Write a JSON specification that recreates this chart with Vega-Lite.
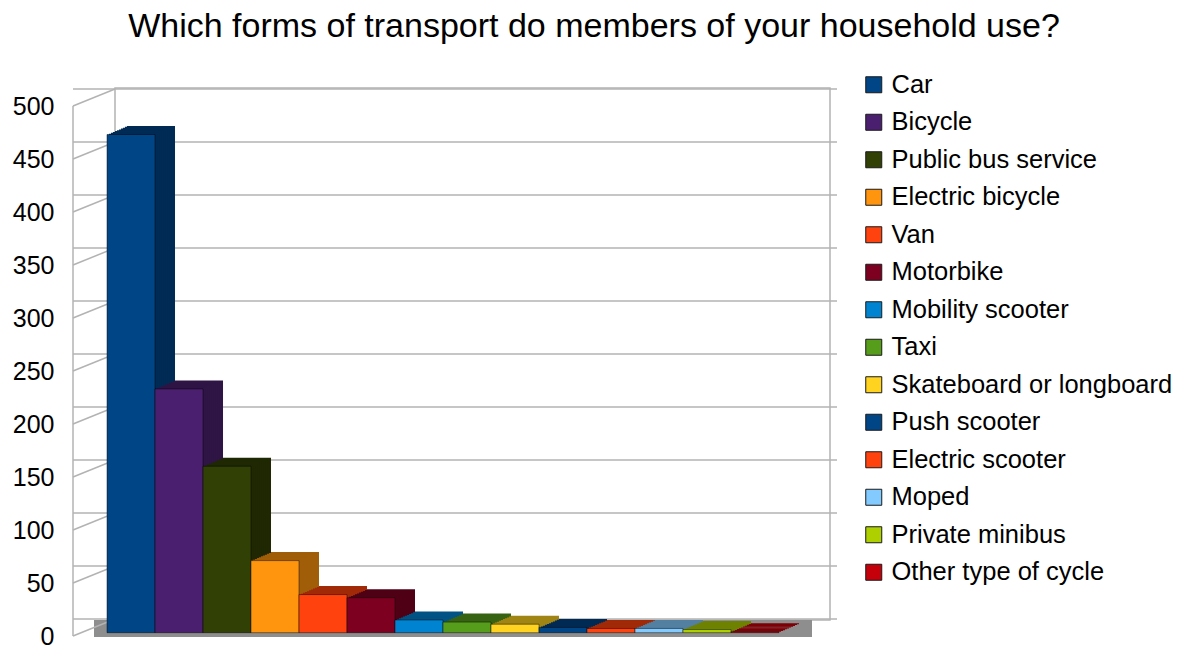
{
  "$schema": "https://vega.github.io/schema/vega-lite/v6.json",
  "width": 722,
  "height": 530,
  "autosize": {"type": "none"},
  "padding": {"left": 73, "top": 106, "right": 387, "bottom": 13},
  "background": "white",
  "title": {"text": "Which forms of transport do members of your household use?", "font": "Liberation Sans", "fontSize": 34, "fontWeight": "normal", "color": "#000000", "anchor": "middle", "offset": 28, "dx": 160},
  "config": {
    "view": {"stroke": null},
    "legend": {"orient": "none", "legendX": 788, "legendY": -34, "title": null, "labelFont": "Liberation Sans", "labelFontSize": 25.5, "labelColor": "#000000", "symbolType": "square", "symbolSize": 256, "symbolStrokeColor": "#1a1a1a", "symbolStrokeWidth": 1, "symbolOpacity": 1, "rowPadding": 10.5, "labelOffset": 5, "padding": 0, "labelLimit": 400}
  },
  "datasets": {
    "bars": [
      {"mode": "Car", "count": 470},
      {"mode": "Bicycle", "count": 230},
      {"mode": "Public bus service", "count": 157},
      {"mode": "Electric bicycle", "count": 68},
      {"mode": "Van", "count": 36},
      {"mode": "Motorbike", "count": 33},
      {"mode": "Mobility scooter", "count": 12},
      {"mode": "Taxi", "count": 10},
      {"mode": "Skateboard or longboard", "count": 8},
      {"mode": "Push scooter", "count": 5},
      {"mode": "Electric scooter", "count": 4},
      {"mode": "Moped", "count": 4},
      {"mode": "Private minibus", "count": 3},
      {"mode": "Other type of cycle", "count": 1}
    ],
    "grid": [{"v": 0}, {"v": 50}, {"v": 100}, {"v": 150}, {"v": 200}, {"v": 250}, {"v": 300}, {"v": 350}, {"v": 400}, {"v": 450}, {"v": 500}],
    "wall": [{"lo": 0, "hi": 500}]
  },
  "resolve": {"scale": {"color": "independent"}},
  "layer": [
    {"data": {"name": "wall"}, "mark": {"type": "rect", "fill": "#ffffff", "stroke": "#b3b3b3", "strokeWidth": 1.5, "xOffset": 42, "x2Offset": 35, "yOffset": -16, "y2Offset": -18},
     "encoding": {"x": {"value": 0}, "x2": {"value": {"expr": "width"}}, "y": {"field": "lo", "type": "quantitative", "scale": {"domain": [0, 500], "nice": false}, "axis": {"title": null, "values": [0, 50, 100, 150, 200, 250, 300, 350, 400, 450, 500], "domain": false, "ticks": false, "grid": false, "labelFont": "Liberation Sans", "labelFontSize": 25, "labelColor": "#000000", "labelPadding": 19, "labelFlush": false, "labelOverlap": false}}, "y2": {"field": "hi"}}},
    {"data": {"name": "grid"}, "mark": {"type": "rule", "stroke": "#b3b3b3", "strokeWidth": 1.5, "xOffset": 42, "x2Offset": 35, "yOffset": -17},
     "encoding": {"y": {"field": "v", "type": "quantitative", "scale": {"domain": [0, 500], "nice": false}, "axis": {"title": null, "values": [0, 50, 100, 150, 200, 250, 300, 350, 400, 450, 500], "domain": false, "ticks": false, "grid": false, "labelFont": "Liberation Sans", "labelFontSize": 25, "labelColor": "#000000", "labelPadding": 19, "labelFlush": false, "labelOverlap": false}}}},
    {"data": {"name": "wall"}, "mark": {"type": "rect", "fill": "#8e8e8e", "xOffset": 21, "x2Offset": 17, "yOffset": 1, "y2Offset": -16},
     "encoding": {"x": {"value": 0}, "x2": {"value": {"expr": "width"}}, "y": {"field": "lo", "type": "quantitative", "scale": {"domain": [0, 500], "nice": false}, "axis": {"title": null, "values": [0, 50, 100, 150, 200, 250, 300, 350, 400, 450, 500], "domain": false, "ticks": false, "grid": false, "labelFont": "Liberation Sans", "labelFontSize": 25, "labelColor": "#000000", "labelPadding": 19, "labelFlush": false, "labelOverlap": false}}, "y2": {"field": "lo"}}},
    {"data": {"name": "grid"}, "mark": {"type": "rule", "stroke": "#b3b3b3", "strokeWidth": 1.5, "y2Offset": -17},
     "encoding": {"x": {"value": 0}, "x2": {"value": 42}, "y": {"field": "v", "type": "quantitative", "scale": {"domain": [0, 500], "nice": false}, "axis": {"title": null, "values": [0, 50, 100, 150, 200, 250, 300, 350, 400, 450, 500], "domain": false, "ticks": false, "grid": false, "labelFont": "Liberation Sans", "labelFontSize": 25, "labelColor": "#000000", "labelPadding": 19, "labelFlush": false, "labelOverlap": false}}, "y2": {"field": "v"}}},
    {"data": {"name": "wall"}, "mark": {"type": "rule", "stroke": "#b3b3b3", "strokeWidth": 1.5},
     "encoding": {"x": {"value": 0}, "y": {"field": "lo", "type": "quantitative", "scale": {"domain": [0, 500], "nice": false}, "axis": {"title": null, "values": [0, 50, 100, 150, 200, 250, 300, 350, 400, 450, 500], "domain": false, "ticks": false, "grid": false, "labelFont": "Liberation Sans", "labelFontSize": 25, "labelColor": "#000000", "labelPadding": 19, "labelFlush": false, "labelOverlap": false}}, "y2": {"field": "hi"}}},
    {"data": {"name": "bars"}, "mark": {"type": "bar", "xOffset": 20, "yOffset": -11.8, "y2Offset": -11.8},
     "encoding": {"x": {"field": "mode", "type": "nominal", "sort": null, "axis": null, "scale": {"domain": ["Car", "Bicycle", "Public bus service", "Electric bicycle", "Van", "Motorbike", "Mobility scooter", "Taxi", "Skateboard or longboard", "Push scooter", "Electric scooter", "Moped", "Private minibus", "Other type of cycle"], "paddingInner": 0, "paddingOuter": 0.521, "align": 0.68}},
      "y": {"field": "count", "type": "quantitative", "scale": {"domain": [0, 500], "nice": false}, "axis": {"title": null, "values": [0, 50, 100, 150, 200, 250, 300, 350, 400, 450, 500], "domain": false, "ticks": false, "grid": false, "labelFont": "Liberation Sans", "labelFontSize": 25, "labelColor": "#000000", "labelPadding": 19, "labelFlush": false, "labelOverlap": false}},
      "color": {"field": "mode", "type": "nominal", "sort": null, "legend": null, "scale": {"domain": ["Car", "Bicycle", "Public bus service", "Electric bicycle", "Van", "Motorbike", "Mobility scooter", "Taxi", "Skateboard or longboard", "Push scooter", "Electric scooter", "Moped", "Private minibus", "Other type of cycle"], "range": ["#002b54", "#2f1446", "#1f2803", "#a15e09", "#a12a09", "#4f0015", "#005384", "#376312", "#a18514", "#002b54", "#a12a09", "#537fa1", "#6e8200", "#7c0007"]}}}},
    {"data": {"name": "bars"}, "mark": {"type": "bar", "xOffset": 18, "yOffset": -10.95, "y2Offset": -10.95},
     "encoding": {"x": {"field": "mode", "type": "nominal", "sort": null, "axis": null},
      "y": {"field": "count", "type": "quantitative", "scale": {"domain": [0, 500], "nice": false}, "axis": {"title": null, "values": [0, 50, 100, 150, 200, 250, 300, 350, 400, 450, 500], "domain": false, "ticks": false, "grid": false, "labelFont": "Liberation Sans", "labelFontSize": 25, "labelColor": "#000000", "labelPadding": 19, "labelFlush": false, "labelOverlap": false}},
      "color": {"field": "mode", "type": "nominal", "sort": null, "legend": null, "scale": {"domain": ["Car", "Bicycle", "Public bus service", "Electric bicycle", "Van", "Motorbike", "Mobility scooter", "Taxi", "Skateboard or longboard", "Push scooter", "Electric scooter", "Moped", "Private minibus", "Other type of cycle"], "range": ["#002b54", "#2f1446", "#1f2803", "#a15e09", "#a12a09", "#4f0015", "#005384", "#376312", "#a18514", "#002b54", "#a12a09", "#537fa1", "#6e8200", "#7c0007"]}}}},
    {"data": {"name": "bars"}, "mark": {"type": "bar", "xOffset": 16, "yOffset": -10.1, "y2Offset": -10.1},
     "encoding": {"x": {"field": "mode", "type": "nominal", "sort": null, "axis": null},
      "y": {"field": "count", "type": "quantitative", "scale": {"domain": [0, 500], "nice": false}, "axis": {"title": null, "values": [0, 50, 100, 150, 200, 250, 300, 350, 400, 450, 500], "domain": false, "ticks": false, "grid": false, "labelFont": "Liberation Sans", "labelFontSize": 25, "labelColor": "#000000", "labelPadding": 19, "labelFlush": false, "labelOverlap": false}},
      "color": {"field": "mode", "type": "nominal", "sort": null, "legend": null, "scale": {"domain": ["Car", "Bicycle", "Public bus service", "Electric bicycle", "Van", "Motorbike", "Mobility scooter", "Taxi", "Skateboard or longboard", "Push scooter", "Electric scooter", "Moped", "Private minibus", "Other type of cycle"], "range": ["#002b54", "#2f1446", "#1f2803", "#a15e09", "#a12a09", "#4f0015", "#005384", "#376312", "#a18514", "#002b54", "#a12a09", "#537fa1", "#6e8200", "#7c0007"]}}}},
    {"data": {"name": "bars"}, "mark": {"type": "bar", "xOffset": 14, "yOffset": -9.25, "y2Offset": -9.25},
     "encoding": {"x": {"field": "mode", "type": "nominal", "sort": null, "axis": null},
      "y": {"field": "count", "type": "quantitative", "scale": {"domain": [0, 500], "nice": false}, "axis": {"title": null, "values": [0, 50, 100, 150, 200, 250, 300, 350, 400, 450, 500], "domain": false, "ticks": false, "grid": false, "labelFont": "Liberation Sans", "labelFontSize": 25, "labelColor": "#000000", "labelPadding": 19, "labelFlush": false, "labelOverlap": false}},
      "color": {"field": "mode", "type": "nominal", "sort": null, "legend": null, "scale": {"domain": ["Car", "Bicycle", "Public bus service", "Electric bicycle", "Van", "Motorbike", "Mobility scooter", "Taxi", "Skateboard or longboard", "Push scooter", "Electric scooter", "Moped", "Private minibus", "Other type of cycle"], "range": ["#002b54", "#2f1446", "#1f2803", "#a15e09", "#a12a09", "#4f0015", "#005384", "#376312", "#a18514", "#002b54", "#a12a09", "#537fa1", "#6e8200", "#7c0007"]}}}},
    {"data": {"name": "bars"}, "mark": {"type": "bar", "xOffset": 12, "yOffset": -8.4, "y2Offset": -8.4},
     "encoding": {"x": {"field": "mode", "type": "nominal", "sort": null, "axis": null},
      "y": {"field": "count", "type": "quantitative", "scale": {"domain": [0, 500], "nice": false}, "axis": {"title": null, "values": [0, 50, 100, 150, 200, 250, 300, 350, 400, 450, 500], "domain": false, "ticks": false, "grid": false, "labelFont": "Liberation Sans", "labelFontSize": 25, "labelColor": "#000000", "labelPadding": 19, "labelFlush": false, "labelOverlap": false}},
      "color": {"field": "mode", "type": "nominal", "sort": null, "legend": null, "scale": {"domain": ["Car", "Bicycle", "Public bus service", "Electric bicycle", "Van", "Motorbike", "Mobility scooter", "Taxi", "Skateboard or longboard", "Push scooter", "Electric scooter", "Moped", "Private minibus", "Other type of cycle"], "range": ["#002b54", "#2f1446", "#1f2803", "#a15e09", "#a12a09", "#4f0015", "#005384", "#376312", "#a18514", "#002b54", "#a12a09", "#537fa1", "#6e8200", "#7c0007"]}}}},
    {"data": {"name": "bars"}, "mark": {"type": "bar", "xOffset": 10, "yOffset": -7.55, "y2Offset": -7.55},
     "encoding": {"x": {"field": "mode", "type": "nominal", "sort": null, "axis": null},
      "y": {"field": "count", "type": "quantitative", "scale": {"domain": [0, 500], "nice": false}, "axis": {"title": null, "values": [0, 50, 100, 150, 200, 250, 300, 350, 400, 450, 500], "domain": false, "ticks": false, "grid": false, "labelFont": "Liberation Sans", "labelFontSize": 25, "labelColor": "#000000", "labelPadding": 19, "labelFlush": false, "labelOverlap": false}},
      "color": {"field": "mode", "type": "nominal", "sort": null, "legend": null, "scale": {"domain": ["Car", "Bicycle", "Public bus service", "Electric bicycle", "Van", "Motorbike", "Mobility scooter", "Taxi", "Skateboard or longboard", "Push scooter", "Electric scooter", "Moped", "Private minibus", "Other type of cycle"], "range": ["#002b54", "#2f1446", "#1f2803", "#a15e09", "#a12a09", "#4f0015", "#005384", "#376312", "#a18514", "#002b54", "#a12a09", "#537fa1", "#6e8200", "#7c0007"]}}}},
    {"data": {"name": "bars"}, "mark": {"type": "bar", "xOffset": 8, "yOffset": -6.7, "y2Offset": -6.7},
     "encoding": {"x": {"field": "mode", "type": "nominal", "sort": null, "axis": null},
      "y": {"field": "count", "type": "quantitative", "scale": {"domain": [0, 500], "nice": false}, "axis": {"title": null, "values": [0, 50, 100, 150, 200, 250, 300, 350, 400, 450, 500], "domain": false, "ticks": false, "grid": false, "labelFont": "Liberation Sans", "labelFontSize": 25, "labelColor": "#000000", "labelPadding": 19, "labelFlush": false, "labelOverlap": false}},
      "color": {"field": "mode", "type": "nominal", "sort": null, "legend": null, "scale": {"domain": ["Car", "Bicycle", "Public bus service", "Electric bicycle", "Van", "Motorbike", "Mobility scooter", "Taxi", "Skateboard or longboard", "Push scooter", "Electric scooter", "Moped", "Private minibus", "Other type of cycle"], "range": ["#002b54", "#2f1446", "#1f2803", "#a15e09", "#a12a09", "#4f0015", "#005384", "#376312", "#a18514", "#002b54", "#a12a09", "#537fa1", "#6e8200", "#7c0007"]}}}},
    {"data": {"name": "bars"}, "mark": {"type": "bar", "xOffset": 6, "yOffset": -5.85, "y2Offset": -5.85},
     "encoding": {"x": {"field": "mode", "type": "nominal", "sort": null, "axis": null},
      "y": {"field": "count", "type": "quantitative", "scale": {"domain": [0, 500], "nice": false}, "axis": {"title": null, "values": [0, 50, 100, 150, 200, 250, 300, 350, 400, 450, 500], "domain": false, "ticks": false, "grid": false, "labelFont": "Liberation Sans", "labelFontSize": 25, "labelColor": "#000000", "labelPadding": 19, "labelFlush": false, "labelOverlap": false}},
      "color": {"field": "mode", "type": "nominal", "sort": null, "legend": null, "scale": {"domain": ["Car", "Bicycle", "Public bus service", "Electric bicycle", "Van", "Motorbike", "Mobility scooter", "Taxi", "Skateboard or longboard", "Push scooter", "Electric scooter", "Moped", "Private minibus", "Other type of cycle"], "range": ["#002b54", "#2f1446", "#1f2803", "#a15e09", "#a12a09", "#4f0015", "#005384", "#376312", "#a18514", "#002b54", "#a12a09", "#537fa1", "#6e8200", "#7c0007"]}}}},
    {"data": {"name": "bars"}, "mark": {"type": "bar", "xOffset": 4, "yOffset": -5, "y2Offset": -5},
     "encoding": {"x": {"field": "mode", "type": "nominal", "sort": null, "axis": null},
      "y": {"field": "count", "type": "quantitative", "scale": {"domain": [0, 500], "nice": false}, "axis": {"title": null, "values": [0, 50, 100, 150, 200, 250, 300, 350, 400, 450, 500], "domain": false, "ticks": false, "grid": false, "labelFont": "Liberation Sans", "labelFontSize": 25, "labelColor": "#000000", "labelPadding": 19, "labelFlush": false, "labelOverlap": false}},
      "color": {"field": "mode", "type": "nominal", "sort": null, "legend": null, "scale": {"domain": ["Car", "Bicycle", "Public bus service", "Electric bicycle", "Van", "Motorbike", "Mobility scooter", "Taxi", "Skateboard or longboard", "Push scooter", "Electric scooter", "Moped", "Private minibus", "Other type of cycle"], "range": ["#002b54", "#2f1446", "#1f2803", "#a15e09", "#a12a09", "#4f0015", "#005384", "#376312", "#a18514", "#002b54", "#a12a09", "#537fa1", "#6e8200", "#7c0007"]}}}},
    {"data": {"name": "bars"}, "mark": {"type": "bar", "xOffset": 2, "yOffset": -4.15, "y2Offset": -4.15},
     "encoding": {"x": {"field": "mode", "type": "nominal", "sort": null, "axis": null},
      "y": {"field": "count", "type": "quantitative", "scale": {"domain": [0, 500], "nice": false}, "axis": {"title": null, "values": [0, 50, 100, 150, 200, 250, 300, 350, 400, 450, 500], "domain": false, "ticks": false, "grid": false, "labelFont": "Liberation Sans", "labelFontSize": 25, "labelColor": "#000000", "labelPadding": 19, "labelFlush": false, "labelOverlap": false}},
      "color": {"field": "mode", "type": "nominal", "sort": null, "legend": null, "scale": {"domain": ["Car", "Bicycle", "Public bus service", "Electric bicycle", "Van", "Motorbike", "Mobility scooter", "Taxi", "Skateboard or longboard", "Push scooter", "Electric scooter", "Moped", "Private minibus", "Other type of cycle"], "range": ["#002b54", "#2f1446", "#1f2803", "#a15e09", "#a12a09", "#4f0015", "#005384", "#376312", "#a18514", "#002b54", "#a12a09", "#537fa1", "#6e8200", "#7c0007"]}}}},
    {"data": {"name": "bars"}, "mark": {"type": "bar", "yOffset": -3.3, "y2Offset": -3.3, "stroke": "#000000", "strokeOpacity": 0.45, "strokeWidth": 1},
     "encoding": {"x": {"field": "mode", "type": "nominal", "sort": null, "axis": null},
      "y": {"field": "count", "type": "quantitative", "scale": {"domain": [0, 500], "nice": false}, "axis": {"title": null, "values": [0, 50, 100, 150, 200, 250, 300, 350, 400, 450, 500], "domain": false, "ticks": false, "grid": false, "labelFont": "Liberation Sans", "labelFontSize": 25, "labelColor": "#000000", "labelPadding": 19, "labelFlush": false, "labelOverlap": false}},
      "color": {"field": "mode", "type": "nominal", "sort": null, "scale": {"domain": ["Car", "Bicycle", "Public bus service", "Electric bicycle", "Van", "Motorbike", "Mobility scooter", "Taxi", "Skateboard or longboard", "Push scooter", "Electric scooter", "Moped", "Private minibus", "Other type of cycle"], "range": ["#004586", "#4b1f6f", "#314004", "#ff950e", "#ff420e", "#7e0021", "#0084d1", "#579d1c", "#ffd320", "#004586", "#ff420e", "#83caff", "#aecf00", "#c5000b"]}}}}
  ]
}
